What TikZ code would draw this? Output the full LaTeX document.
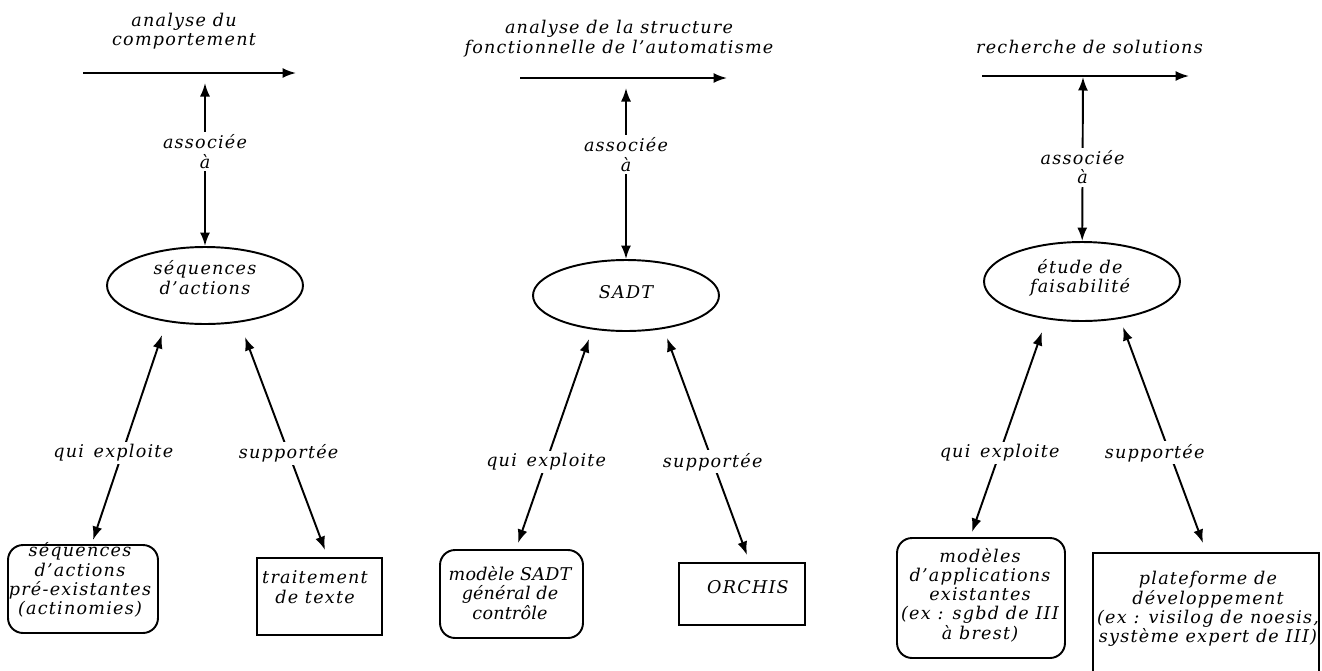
\documentclass[tikz,border=0pt]{standalone}
\usepackage{fontspec}
\setmainfont{DejaVu Serif}[LetterSpace=7]
\usetikzlibrary{arrows.meta,shapes.geometric}
\begin{document}
\begin{tikzpicture}[x=0.02cm,y=-0.02cm,
  txt/.style={font=\fontsize{10}{11}\selectfont\itshape, align=center, inner sep=0pt},
  ell/.style={draw, ellipse, line width=1.1pt, inner sep=0pt},
  rbox/.style={draw, rounded corners=0.3cm, line width=1.1pt, inner sep=0pt},
  sbox/.style={draw, line width=1.1pt, inner sep=0pt},
  tipa/.tip={Latex[length=0.27cm,width=0.2cm]},
  link/.style={line width=1.1pt, tipa-tipa},
  flow/.style={line width=1pt, -tipa},
  tag/.style={txt, fill=white, inner sep=1.5pt}]
\useasboundingbox (0,0) rectangle (1322,670);

% ---------- column 1 : analyse du comportement ----------
\node[txt] (title1) at (184,31) {analyse du\\comportement};
\coordinate (h1s) at (83,73);
\coordinate (h1e) at (296,73);
\draw[flow] (h1s) -- (h1e);
\coordinate (v1) at (205,83);
\node[ell, minimum width=3.92cm, minimum height=1.54cm] (e1) at (205,285.5) {};
\node[txt] (e1t) at (205,277.5) {séquences\\d'actions};
\draw[link] (v1) -- node[tag, pos=0.42] (a1) {associée\\à} (e1);

\node[rbox, minimum width=3.0cm, minimum height=1.76cm] (b1) at (83,589) {};
\node[txt] (b1t) at (80,580) {séquences\\d'actions\\pré-existantes\\(actinomies)};
\node[sbox, minimum width=2.5cm, minimum height=1.54cm] (b2) at (319.5,596.5) {};
\node[txt] (b2t) at (315,587) {traitement\\de texte};

\coordinate (e1l) at (162,335);
\coordinate (b1u) at (93,540);
\coordinate (e1r) at (245,337);
\coordinate (b2u) at (325,550);
\draw[link] (e1l) -- node[tag, pos=0.576, xshift=-0.18cm] (q1) {qui\, exploite} (b1u);
\draw[link] (e1r) -- node[tag, pos=0.545] (s1) {supportée} (b2u);

% ---------- column 2 : structure fonctionnelle ----------
\node[txt] (title2) at (619,38.5) {analyse de la structure\\fonctionnelle de l'automatisme};
\coordinate (h2s) at (520,78);
\coordinate (h2e) at (727,78);
\draw[flow] (h2s) -- (h2e);
\coordinate (v2) at (626,88);
\node[ell, minimum width=3.72cm, minimum height=1.42cm] (e2) at (626,295.5) {};
\node[txt] (e2t) at (626,292) {SADT};
\draw[link] (v2) -- node[tag, pos=0.39] (a2) {associée\\à} (e2);

\node[rbox, minimum width=2.86cm, minimum height=1.76cm] (b3) at (511.5,594) {};
\node[txt, font=\fontsize{10}{11}\selectfont\itshape\addfontfeature{LetterSpace=1}] (b3t) at (510,593) {modèle SADT\\général de\\contrôle};
\node[sbox, minimum width=2.52cm, minimum height=1.24cm] (b4) at (742,594) {};
\node[txt] (b4t) at (748,587) {ORCHIS};

\coordinate (e2l) at (589,339);
\coordinate (b3u) at (518,543);
\coordinate (e2r) at (667,338);
\coordinate (b4u) at (747,555);
\draw[link] (e2l) -- node[tag, pos=0.603] (q2) {qui\, exploite} (b3u);
\draw[link] (e2r) -- node[tag, pos=0.571] (s2) {supportée} (b4u);

% ---------- column 3 : recherche de solutions ----------
\node[txt] (title3) at (1089.5,47) {recherche de solutions};
\coordinate (h3s) at (982,76);
\coordinate (h3e) at (1189,76);
\draw[flow] (h3s) -- (h3e);
\coordinate (v3) at (1083,77);
\node[ell, minimum width=3.92cm, minimum height=1.58cm] (e3) at (1082,281.5) {};
\node[txt] (e3t) at (1080,277.5) {étude de\\faisabilité};
\draw[link] (v3) -- node[tag, pos=0.55] (a3) {associée\\à} (e3);

\node[rbox, minimum width=3.36cm, minimum height=2.4cm] (b5) at (981,598) {};
\node[txt] (b5t) at (980,595) {modèles\\d'applications\\existantes\\(ex : sgbd de III\\à brest)};
\node[sbox, minimum width=4.52cm, minimum height=2.94cm] (b6) at (1206,626.5) {};
\node[txt] (b6t) at (1208,609) {plateforme de\\développement\\(ex : visilog de noesis,\\système expert de III)};

\coordinate (e3l) at (1042,332);
\coordinate (b5u) at (972,532);
\coordinate (e3r) at (1123,327);
\coordinate (b6u) at (1203,543);
\draw[link] (e3l) -- node[tag, pos=0.605] (q3) {qui\, exploite} (b5u);
\draw[link] (e3r) -- node[tag, pos=0.583, xshift=-0.3cm] (s3) {supportée} (b6u);
\end{tikzpicture}
\end{document}
